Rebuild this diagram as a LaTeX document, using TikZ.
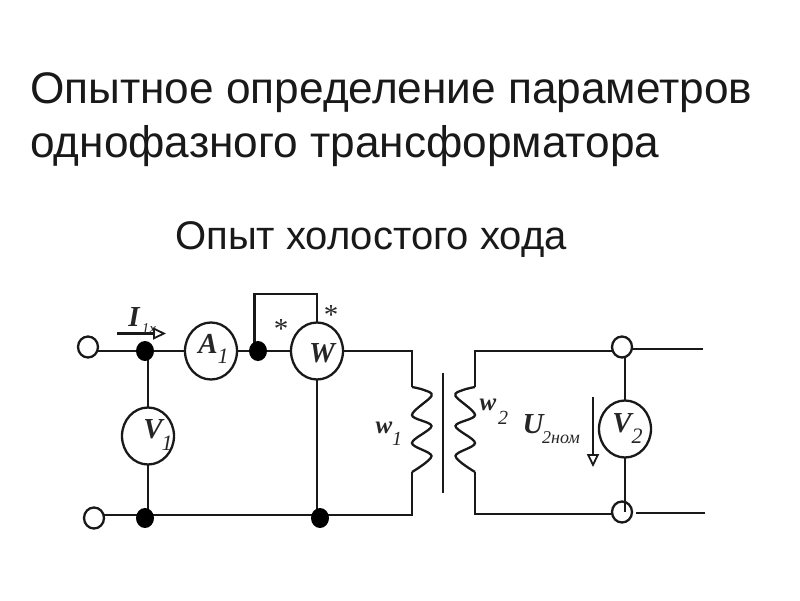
\documentclass[tikz,border=0pt]{standalone}
\usepackage{fontspec}
\setmainfont{Liberation Sans}
\newfontfamily\serifit{Liberation Serif}
\usetikzlibrary{arrows.meta,shapes.geometric}
\tikzset{
  wire/.style={line width=2.3pt,black!90,line join=miter},
  meter/.style={ellipse,draw=black!90,line width=2.3pt,fill=white,minimum width=52pt,minimum height=57pt,inner sep=0pt},
  terminal/.style={ellipse,draw=black!90,line width=2.3pt,fill=white,minimum width=20pt,minimum height=21pt,inner sep=0pt},
  dotj/.style={ellipse,fill=black,minimum width=18pt,minimum height=20pt,inner sep=0pt},
  title/.style={font=\fontsize{44.2}{50}\selectfont,anchor=west,inner sep=0pt,text=black!90},
  lab/.style={font=\serifit\itshape\bfseries\fontsize{29}{29}\selectfont,inner sep=0pt,text=black!85},
  sublab/.style={font=\serifit\itshape\fontsize{22}{22}\selectfont,inner sep=0pt,text=black!85},
  small/.style={font=\serifit\itshape\fontsize{15}{15}\selectfont,inner sep=0pt,text=black!85},
  star/.style={font=\serifit\fontsize{29}{29}\selectfont,inner sep=0pt,text=black!85},
  hollow/.style={-{Triangle[open,length=13pt,width=12pt,line width=1.8pt]}}
}
\begin{document}
\begin{tikzpicture}[x=1pt,y=-1pt]
\useasboundingbox (0,0) rectangle (800,600);
\node[title] (t1) at (30,93) {Опытное определение параметров};
\node[title] (t2) at (30,146) {однофазного трансформатора};
\node[title,font=\fontsize{40}{46}\selectfont] (t3) at (175,240) {Опыт холостого хода};

\coordinate (c1a) at (412,351);
\coordinate (c1b) at (412,387);
\coordinate (c1c) at (412,472);
\coordinate (c1d) at (412,515);
\coordinate (c2a) at (475,351);
\coordinate (c2b) at (475,387);
\coordinate (c2c) at (475,472);
\coordinate (c2d) at (475,514);
\coordinate (sq1) at (254.5,294);
\coordinate (sq2) at (317,294);
\coordinate (out1) at (703,349);
\coordinate (out2) at (705,513);
\coordinate (core1) at (443,373);
\coordinate (core2) at (443,493);
\coordinate (ia) at (117,333.5);
\coordinate (ib) at (166,333.5);
\coordinate (ua) at (593,397);
\coordinate (ub) at (593,467);

\coordinate (Tl1) at (88,347);
\coordinate (Tl2) at (94,518);
\coordinate (Tr1) at (622,347);
\coordinate (Tr2) at (622,512);
\coordinate (J1) at (145,351);
\coordinate (J2) at (258,351);
\coordinate (J3) at (145,518);
\coordinate (J4) at (320,518);
\coordinate (A) at (211,351);
\coordinate (W) at (317,351);
\coordinate (V1c) at (148,436);
\coordinate (V2c) at (625,429);

\draw[wire] (88,351) -- (J1) -- (A) -- (J2) -- (W) -- (c1a) -- (c1b);
\draw[wire] (94,515) -- (c1d) -- (c1c);
\draw[wire] (254.5,351) -- (sq1) -- (sq2) -- (W);
\draw[wire] (148,351) -- (V1c) -- (148,515);
\draw[wire] (W) -- (317,515);
\draw[wire] (c2b) -- (c2a) -- (612,351);
\draw[wire] (c2c) -- (c2d) -- (612,514);
\draw[wire] (632,349) -- (out1);
\draw[wire] (636,513) -- (out2);
\draw[wire] (625,347) -- (625,512);
\draw[wire] (core1) -- (core2);
\draw[wire] plot[smooth,tension=0.55] coordinates {(412,387) (424,390) (431.5,396) (412,415) (431.5,426) (412,443) (431.5,456) (412,472)};
\draw[wire] plot[smooth,tension=0.55] coordinates {(475,387) (463,390) (455.5,396) (475,415) (455.5,426) (475,443) (455.5,456) (475,472)};

\node[terminal] (T1) at (Tl1) {};
\node[terminal] (T2) at (Tl2) {};
\node[terminal] (T3) at (Tr1) {};
\node[terminal] (T4) at (Tr2) {};
\draw[wire] (625,501) -- (625,512);
\node[dotj] (D1) at (J1) {};
\node[dotj] (D2) at (J2) {};
\node[dotj] (D3) at (J3) {};
\node[dotj] (D4) at (J4) {};
\node[meter] (MA) at (A) {};
\node[meter] (MW) at (W) {};
\node[meter] (MV1) at (V1c) {};
\node[meter] (MV2) at (V2c) {};

\draw[wire,hollow] (ia) -- (ib);
\draw[wire,hollow] (ua) -- (ub);

\node[lab] at (134,317) {I};
\node[small] at (149,329) {1х};
\node[lab] at (208,344) {A};
\node[sublab] at (223,356) {1};
\node[lab] at (322,353) {W};
\node[lab] at (153,429) {V};
\node[sublab] at (167,443) {1};
\node[lab] at (622,423) {V};
\node[sublab] at (637,436) {2};
\node[sublab,font=\serifit\itshape\bfseries\fontsize{25}{25}\selectfont] at (384,428) {w};
\node[sublab,font=\serifit\itshape\fontsize{20}{20}\selectfont] at (397,439) {1};
\node[sublab,font=\serifit\itshape\bfseries\fontsize{25}{25}\selectfont] at (488,405) {w};
\node[sublab,font=\serifit\itshape\fontsize{20}{20}\selectfont] at (503,418) {2};
\node[lab] at (533,424) {U};
\node[small,font=\serifit\itshape\fontsize{18}{18}\selectfont] at (561,438) {2ном};
\node[star] at (281,329) {*};
\node[star] at (331,315) {*};
\end{tikzpicture}
\end{document}
